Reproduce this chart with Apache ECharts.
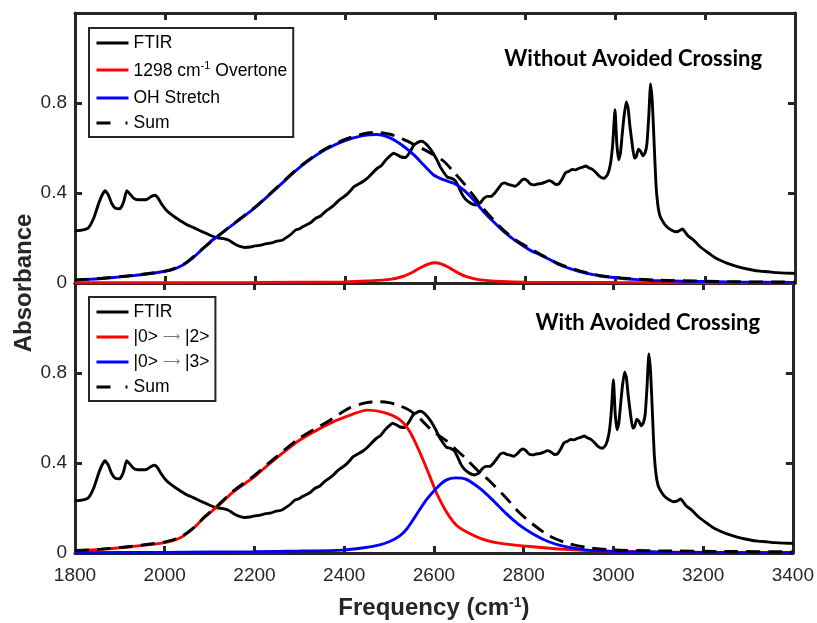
<!DOCTYPE html>
<html>
<head>
<meta charset="utf-8">
<script src="https://cdn.jsdelivr.net/npm/echarts@6/dist/echarts.min.js"></script>
<style>
  html, body { margin: 0; padding: 0; background: #fff; }
  #chart { width: 817px; height: 623px; }
</style>
</head>
<body>
<div id="chart"></div>
<script>
// Axis settings
const xTicks = [1800, 2000, 2200, 2400, 2600, 2800, 3000, 3200, 3400];
const yTickLabels = ['0', '0.4', '0.8'];

// Measured FTIR spectrum (frequency in cm-1, absorbance)
const ftir = [
  [1800,0.232],[1815,0.235],[1830,0.246],[1842,0.29],[1852,0.35],[1860,0.39],[1867,0.41],
  [1874,0.392],[1882,0.352],[1890,0.332],[1900,0.33],[1908,0.36],[1915,0.41],[1922,0.396],
  [1930,0.377],[1940,0.37],[1950,0.37],[1960,0.372],[1970,0.385],[1978,0.39],[1985,0.376],
  [1992,0.352],[2002,0.326],[2013,0.306],[2024,0.29],[2035,0.276],[2050,0.258],[2065,0.245],
  [2078,0.232],[2090,0.222],[2103,0.21],[2117,0.201],[2130,0.197],[2142,0.19],[2153,0.176],
  [2165,0.164],[2178,0.158],[2190,0.16],[2200,0.165],[2213,0.168],[2225,0.175],[2237,0.178],
  [2248,0.186],[2260,0.19],[2272,0.205],[2282,0.22],[2290,0.235],[2298,0.24],[2308,0.252],
  [2316,0.26],[2325,0.27],[2335,0.288],[2346,0.298],[2355,0.315],[2365,0.33],[2375,0.345],
  [2385,0.365],[2395,0.38],[2405,0.395],[2412,0.41],[2420,0.428],[2430,0.44],[2441,0.452],
  [2452,0.47],[2464,0.495],[2472,0.51],[2480,0.52],[2490,0.545],[2500,0.565],[2508,0.577],
  [2516,0.57],[2525,0.56],[2535,0.558],[2545,0.585],[2553,0.612],[2562,0.625],[2570,0.63],
  [2578,0.622],[2586,0.605],[2595,0.58],[2604,0.548],[2612,0.515],[2620,0.49],[2628,0.47],
  [2636,0.466],[2645,0.455],[2652,0.43],[2660,0.395],[2668,0.372],[2679,0.355],[2690,0.347],
  [2700,0.355],[2708,0.375],[2716,0.385],[2725,0.385],[2733,0.4],[2740,0.418],[2748,0.44],
  [2755,0.445],[2762,0.438],[2770,0.435],[2778,0.43],[2785,0.44],[2792,0.455],[2798,0.462],
  [2805,0.455],[2812,0.44],[2820,0.436],[2828,0.44],[2836,0.442],[2845,0.448],[2853,0.455],
  [2860,0.45],[2868,0.438],[2875,0.44],[2882,0.46],[2890,0.49],[2898,0.497],[2905,0.505],
  [2912,0.503],[2920,0.51],[2928,0.515],[2935,0.52],[2942,0.512],[2950,0.505],[2958,0.49],
  [2965,0.475],[2975,0.465],[2983,0.48],[2990,0.53],[2995,0.62],[3000,0.77],[3004,0.62],
  [3008,0.548],[3012,0.575],[3016,0.66],[3020,0.74],[3025,0.805],[3029,0.78],[3033,0.7],
  [3038,0.62],[3043,0.555],[3047,0.56],[3052,0.595],[3057,0.585],[3062,0.565],[3067,0.58],
  [3071,0.62],[3075,0.74],[3079,0.885],[3083,0.8],[3087,0.62],[3091,0.44],[3095,0.35],
  [3100,0.298],[3108,0.268],[3115,0.25],[3125,0.236],[3135,0.228],[3143,0.232],[3150,0.24],
  [3156,0.226],[3162,0.21],[3170,0.198],[3180,0.18],[3190,0.16],[3205,0.137],[3220,0.116],
  [3235,0.1],[3250,0.087],[3265,0.077],[3285,0.066],[3305,0.058],[3322,0.053],[3340,0.05],
  [3360,0.046],[3380,0.044],[3400,0.043]
];

// Fit without avoided crossing
const overtone = [
  [1800,0.001],[2200,0.002],[2400,0.005],[2450,0.009],[2500,0.016],[2530,0.03],[2550,0.048],
  [2570,0.07],[2585,0.084],[2600,0.09],[2615,0.084],[2630,0.07],[2650,0.046],[2670,0.028],
  [2700,0.014],[2750,0.007],[2800,0.004],[3000,0.002],[3400,0.001]
];
const ohStretch = [
  [1800,0.013],[1830,0.016],[1860,0.02],[1900,0.027],[1930,0.033],[1960,0.04],[2000,0.052],
  [2020,0.062],[2040,0.08],[2060,0.108],[2080,0.145],[2100,0.182],[2120,0.212],[2150,0.258],
  [2200,0.335],[2250,0.425],[2300,0.515],[2350,0.586],[2400,0.633],[2440,0.655],[2470,0.66],
  [2500,0.645],[2530,0.608],[2555,0.566],[2575,0.524],[2597,0.48],[2620,0.458],[2642,0.443],
  [2664,0.413],[2686,0.369],[2708,0.317],[2730,0.272],[2753,0.228],[2780,0.186],[2812,0.145],
  [2834,0.125],[2856,0.103],[2878,0.08],[2900,0.064],[2923,0.05],[2945,0.04],[2967,0.031],
  [3012,0.021],[3050,0.015],[3086,0.011],[3150,0.008],[3250,0.005],[3400,0.003]
];
const sumWithout = [
  [1800,0.014],[1860,0.021],[1930,0.034],[2000,0.053],[2040,0.081],[2080,0.146],[2120,0.213],
  [2150,0.26],[2200,0.337],[2250,0.427],[2300,0.518],[2350,0.589],[2400,0.638],[2440,0.663],
  [2470,0.67],[2500,0.661],[2530,0.638],[2555,0.614],[2575,0.594],[2597,0.57],[2620,0.54],
  [2642,0.493],[2664,0.443],[2686,0.387],[2708,0.329],[2730,0.28],[2753,0.234],[2780,0.19],
  [2834,0.128],[2878,0.083],[2923,0.053],[2967,0.033],[3012,0.023],[3086,0.013],[3150,0.01],
  [3250,0.006],[3400,0.004]
];

// Fit with avoided crossing
const trans02 = [
  [1800,0.01],[1858,0.016],[1924,0.028],[2000,0.046],[2035,0.068],[2064,0.11],[2090,0.161],
  [2117,0.206],[2153,0.272],[2200,0.339],[2235,0.399],[2301,0.502],[2368,0.576],[2400,0.603],
  [2452,0.635],[2490,0.624],[2523,0.594],[2546,0.54],[2568,0.45],[2590,0.345],[2605,0.27],
  [2627,0.186],[2649,0.126],[2671,0.096],[2708,0.062],[2745,0.044],[2819,0.028],[2893,0.016],
  [2967,0.009],[3100,0.005],[3250,0.003],[3400,0.002]
];
const trans03 = [
  [1800,0.001],[2000,0.003],[2200,0.006],[2300,0.009],[2397,0.013],[2440,0.022],[2479,0.036],
  [2500,0.05],[2523,0.075],[2540,0.108],[2553,0.146],[2568,0.192],[2583,0.236],[2605,0.287],
  [2627,0.324],[2649,0.334],[2671,0.328],[2701,0.289],[2730,0.237],[2760,0.177],[2790,0.125],
  [2819,0.087],[2856,0.05],[2893,0.028],[2937,0.014],[2996,0.007],[3100,0.004],[3250,0.002],
  [3400,0.001]
];
const sumWith = [
  [1800,0.011],[1858,0.017],[1924,0.029],[2000,0.049],[2035,0.07],[2064,0.112],[2090,0.163],
  [2117,0.209],[2153,0.276],[2200,0.345],[2235,0.405],[2301,0.511],[2368,0.59],[2412,0.645],
  [2450,0.668],[2480,0.672],[2500,0.668],[2523,0.655],[2545,0.635],[2570,0.595],[2597,0.542],
  [2627,0.5],[2649,0.46],[2671,0.42],[2701,0.36],[2723,0.322],[2760,0.247],[2790,0.18],
  [2819,0.13],[2856,0.077],[2893,0.046],[2937,0.026],[2996,0.014],[3100,0.01],[3250,0.007],
  [3400,0.005]
];

const AX = '#262626';
const FONT = "'Liberation Sans', Arial, sans-serif";
const TITLE_FONT = "Lato, sans-serif";
const GRID_L = 75, GRID_R = 22;
const LW = 2.9;

function xAxisFor(grid, pos, showLabels) {
  return {
    type: 'value', gridIndex: grid, position: pos,
    min: xTicks[0], max: xTicks[xTicks.length - 1], interval: xTicks[1] - xTicks[0],
    axisLine: { show: true, onZero: false, lineStyle: { color: AX, width: 3 } },
    axisTick: { show: true, inside: true, length: 7, lineStyle: { color: AX, width: 3 } },
    axisLabel: {
      show: showLabels, color: AX, fontFamily: FONT, fontSize: 19, margin: 13,
      formatter: v => String(v)
    },
    splitLine: { show: false }
  };
}
function yAxisFor(grid, pos, showLabels) {
  return {
    type: 'value', gridIndex: grid, position: pos,
    min: 0, max: 1.2, interval: 0.4,
    axisLine: { show: true, onZero: false, lineStyle: { color: AX, width: 3 } },
    axisTick: { show: true, inside: true, length: 7, lineStyle: { color: AX, width: 3 } },
    axisLabel: {
      show: showLabels, color: AX, fontFamily: FONT, fontSize: 19, margin: 8,
      formatter: v => { const i = Math.round(v / 0.4); return i < yTickLabels.length ? yTickLabels[i] : ''; }
    },
    splitLine: { show: false }
  };
}

function lineSeries(name, data, grid, color, extra) {
  return Object.assign({
    name, type: 'line', data, xAxisIndex: grid * 2, yAxisIndex: grid * 2,
    symbol: 'none', showSymbol: false, smooth: 0.25, animation: false,
    lineStyle: { color, width: LW }, itemStyle: { color }
  }, extra || {});
}

const legendText = {
  fontFamily: FONT, fontSize: 17.5, color: '#000', lineHeight: 20,
  rich: {
    b: { fontFamily: FONT, fontSize: 17.5, color: '#000', lineHeight: 20, verticalAlign: 'bottom', padding: [4, 0, 0, 0] },
    sup: { fontFamily: FONT, fontSize: 11, color: '#000', lineHeight: 12, verticalAlign: 'top', padding: [0, 0, 12, 0] },
    arr: { fontFamily: "'DejaVu Sans', sans-serif", fontSize: 12, color: '#777' }
  }
};
function legendFmt(name) {
  if (name === '1298 cm-1 Overtone') return '{b|1298 cm}{sup|-1}{b| Overtone}';
  if (name === '|0> -> |2>') return '|0> {arr|\u27F6} |2>';
  if (name === '|0> -> |3>') return '|0> {arr|\u27F6} |3>';
  return name;
}
const sumLegend = { name: 'Sum', lineStyle: { type: [14, 15, 2, 100] } };
function legendFor(top, names) {
  return {
    orient: 'vertical', left: 89, top, itemWidth: 32, itemHeight: 12, itemGap: 5,
    padding: [5, 6, 4, 6], borderColor: AX, borderWidth: 2, backgroundColor: '#fff',
    selectedMode: false, textStyle: legendText, formatter: legendFmt,
    itemStyle: { opacity: 0 }, lineStyle: { width: 3 },
    data: names
  };
}

const chart = echarts.init(document.getElementById('chart'), null, { renderer: 'canvas' });
chart.setOption({
  backgroundColor: '#fff',
  animation: false,
  grid: [
    { left: GRID_L, right: GRID_R, top: 13, height: 270 },
    { left: GRID_L, right: GRID_R, top: 283, height: 270 }
  ],
  xAxis: [
    xAxisFor(0, 'bottom', false),
    xAxisFor(0, 'top', false),
    Object.assign(xAxisFor(1, 'bottom', true), {
      name: 'Frequency (cm{sup|-1})', nameLocation: 'middle', nameGap: 43,
      nameTextStyle: {
        fontFamily: FONT, fontSize: 24, fontWeight: 'bold', color: AX,
        rich: { sup: { fontFamily: FONT, fontSize: 14, fontWeight: 'bold', color: AX, verticalAlign: 'top', lineHeight: 14 } }
      }
    }),
    xAxisFor(1, 'top', false)
  ],
  yAxis: [
    yAxisFor(0, 'left', true), yAxisFor(0, 'right', false),
    yAxisFor(1, 'left', true), yAxisFor(1, 'right', false)
  ],
  title: [
    { text: 'Without Avoided Crossing', right: 50, top: 43,
      textStyle: { fontFamily: TITLE_FONT, fontWeight: 'bold', fontSize: 22, color: '#000' } },
    { text: 'With Avoided Crossing', right: 52, top: 307,
      textStyle: { fontFamily: TITLE_FONT, fontWeight: 'bold', fontSize: 22, color: '#000' } }
  ],
  legend: [
    legendFor(28, ['FTIR', '1298 cm-1 Overtone', 'OH Stretch', sumLegend]),
    legendFor(297, ['FTIR', '|0> -> |2>', '|0> -> |3>', sumLegend])
  ],
  graphic: [{
    type: 'text', x: 24, y: 283, rotation: Math.PI / 2,
    style: { text: 'Absorbance', font: "bold 24px 'Liberation Sans', Arial, sans-serif", fill: AX, align: 'center', verticalAlign: 'middle' }
  }],
  series: [
    lineSeries('FTIR', ftir, 0, '#000', { smooth: 0.15 }),
    lineSeries('1298 cm-1 Overtone', overtone, 0, '#ff0000'),
    lineSeries('OH Stretch', ohStretch, 0, '#0000ff'),
    lineSeries('Sum', sumWithout, 0, '#000', { lineStyle: { color: '#000', width: LW, type: [14, 8] } }),
    lineSeries('FTIR', ftir, 1, '#000', { smooth: 0.15 }),
    lineSeries('|0> -> |2>', trans02, 1, '#ff0000'),
    lineSeries('|0> -> |3>', trans03, 1, '#0000ff'),
    lineSeries('Sum', sumWith, 1, '#000', { lineStyle: { color: '#000', width: LW, type: [14, 8] } })
  ]
});
</script>
</body>
</html>
